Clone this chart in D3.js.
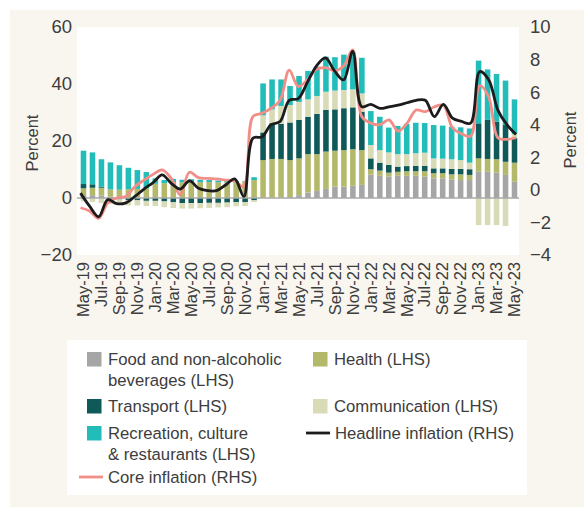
<!DOCTYPE html>
<html>
<head>
<meta charset="utf-8">
<script src="https://cdn.jsdelivr.net/npm/d3@7"></script>
<style>
  body { margin: 0; background: #ffffff; }
  svg text { font-family: "Liberation Sans", Arial, sans-serif; fill: #3d3d3d; }
</style>
</head>
<body>
<svg></svg>
<script>
// monthly categories, May-19 .. May-23
const months = ["May-19","Jun-19","Jul-19","Aug-19","Sep-19","Oct-19","Nov-19","Dec-19",
  "Jan-20","Feb-20","Mar-20","Apr-20","May-20","Jun-20","Jul-20","Aug-20","Sep-20","Oct-20","Nov-20","Dec-20",
  "Jan-21","Feb-21","Mar-21","Apr-21","May-21","Jun-21","Jul-21","Aug-21","Sep-21","Oct-21","Nov-21","Dec-21",
  "Jan-22","Feb-22","Mar-22","Apr-22","May-22","Jun-22","Jul-22","Aug-22","Sep-22","Oct-22","Nov-22","Dec-22",
  "Jan-23","Feb-23","Mar-23","Apr-23","May-23"];

// LHS contributions (percent)
const food = [1.0, 1.0, 0.8, 0.4, 0.3, 0.3, 0.2, 0.2,
  0, 0, 0, 0, 0, 0, 0, 0, 0, 0, 0, 0.2,
  0.2, 0.2, 0.2, 0.3, 1.0, 1.9, 2.5, 3.2, 4.0, 4.0, 4.3, 4.6,
  8.2, 7.8, 7.5, 7.8, 7.8, 7.8, 7.5, 6.9, 6.9, 6.5, 6.3, 6.3,
  9.2, 9.2, 8.9, 8.1, 5.7];
const health = [2.4, 2.6, 2.8, 2.6, 2.6, 2.8, 3.0, 3.2,
  5.0, 5.2, 5.4, 5.5, 5.6, 5.6, 5.6, 5.5, 5.5, 5.5, 6.0, 6.1,
  13.1, 13.5, 13.5, 13.0, 12.9, 13.5, 12.9, 13.1, 12.6, 12.8, 12.8, 12.2,
  1.9, 1.8, 1.4, 1.4, 1.6, 1.6, 1.9, 1.8, 1.8, 1.8, 2.0, 1.8,
  4.7, 4.5, 4.7, 4.6, 6.7];
const transport = [1.5, 1.2, 0.3, -0.3, -0.5, -0.8, -0.8, -1.0,
  -1.0, -1.2, -1.5, -1.8, -1.8, -1.8, -1.7, -1.7, -1.6, -1.4, -1.4, -0.8,
  9.7, 12.5, 12.3, 13.2, 13.5, 13.1, 14.1, 14.6, 14.5, 14.7, 14.7, 13.5,
  3.8, 2.8, 2.7, 1.8, 1.8, 1.9, 1.9, 1.7, 1.7, 1.9, 1.9, 2.0,
  12.3, 13.7, 13.2, 12.9, 8.6];
const communication = [-1.2, -1.4, -1.8, -1.8, -1.8, -1.8, -1.8, -1.8,
  -1.8, -2.0, -2.0, -1.9, -1.9, -1.8, -1.8, -1.6, -1.6, -1.5, -1.4, -0.6,
  6.0, 4.9, 6.3, 6.1, 6.3, 6.1, 6.3, 6.4, 6.6, 6.4, 6.3, 6.4,
  4.7, 4.4, 4.4, 4.4, 4.2, 4.4, 4.6, 3.5, 3.4, 3.4, 3.1, 2.3,
  -9.5, -9.5, -9.5, -9.8, 1.5];
const recreation = [11.7, 11.2, 9.7, 9.5, 8.6, 7.5, 6.6, 5.7,
  1.9, 1.1, 1.3, 0.9, 1.0, 0.8, 0.7, 0.6, 0.6, 0.4, 0.0, 1.0,
  11.2, 10.5, 9.3, 6.7, 9.1, 10.0, 10.3, 12.3, 11.7, 12.4, 12.9, 12.5,
  11.9, 11.7, 8.7, 9.9, 10.6, 10.7, 10.4, 11.7, 11.6, 11.4, 11.5, 12.0,
  22.0, 17.7, 16.7, 15.6, 12.1];

// RHS lines (percent)
const headline = [-0.2, -1.0, -1.65, -0.6, -0.85, -0.8, -0.4, 0.05,
  0.45, 0.92, 0.4, 0.05, 0.55, 0.1, -0.05, -0.05, 0.3, 0.67, -0.4, 3.17,
  3.25, 4.0, 4.2, 5.5, 5.6, 6.6, 7.6, 8.1, 7.3, 6.75, 8.5, 5.1,
  5.25, 5.0, 5.1, 5.2, 5.35, 5.5, 5.5, 4.5, 5.25, 4.4, 4.2, 4.1,
  7.26, 6.75, 4.9, 4.0, 3.4];
const core = [-1.1, -1.3, -1.75, -0.8, -0.5, -0.4, 0.2, 0.6,
  0.95, 1.23, 0.7, -0.3, 1.08, 0.75, 0.7, 0.67, 0.6, 0.55, 0.2, 4.5,
  4.7, 5.0, 5.5, 7.35, 6.35, 6.75, 7.4, 7.5, 7.3, 7.6, 8.6, 4.5,
  4.1, 4.0, 4.3, 3.6, 4.1, 4.9, 4.8, 5.1, 5.2, 3.8, 3.45, 3.3,
  6.4, 5.7, 3.2, 3.1, 3.2];

const leftTicks = [-20, 0, 20, 40, 60];
const rightTicks = [-4, -2, 0, 2, 4, 6, 8, 10];
const xTickLabels = months.filter((m, i) => i % 2 === 0);

const seriesKeys = ["food", "health", "transport", "communication", "recreation"];
const seriesNames = ["Food and non-alcoholic\nbeverages (LHS)", "Health (LHS)", "Transport (LHS)",
  "Communication (LHS)", "Recreation, culture\n& restaurants (LHS)"];
const barColors = ["#a6a6a6", "#b4b86b", "#0f5a59", "#d8dbb5", "#23bdb9"];
const lineColors = { headline: "#1c1c1c", core: "#f28e88" };

var svgWidth = 584, svgHeight = 510;

var svg = d3.select("svg")
  .attr("width", svgWidth)
  .attr("height", svgHeight);

// cream panel
svg.append("rect")
  .attr("x", 10).attr("y", 10)
  .attr("width", svgWidth - 10).attr("height", 497)
  .attr("fill", "#f9f6ef");

var plot = { left: 77, right: 519, top: 27, bottom: 255 };

svg.append("rect")
  .attr("x", plot.left).attr("y", plot.top)
  .attr("width", plot.right - plot.left).attr("height", plot.bottom - plot.top)
  .attr("fill", "#ffffff");

//scales
var x = d3.scaleBand()
  .domain(months)
  .range([79, plot.right])
  .paddingInner(0.38)
  .paddingOuter(0.19);

// secondary category axis for the lines (points run edge to edge)
var xLine = d3.scalePoint()
  .domain(months)
  .range([80.5, 516]);

var yL = d3.scaleLinear().domain([-20, 60]).range([plot.bottom, plot.top]);
var yR = d3.scaleLinear().domain([-4, 10]).range([plot.bottom, plot.top]);

//stacked bars
var table = months.map((m, i) => ({
  month: m,
  food: food[i],
  health: health[i],
  transport: transport[i],
  communication: communication[i],
  recreation: recreation[i]
}));

var stacked = d3.stack()
  .keys(seriesKeys)
  .offset(d3.stackOffsetDiverging)(table);

svg.append("g")
  .selectAll("g")
  .data(stacked)
  .enter()
  .append("g")
  .attr("fill", (d, i) => barColors[i])
  .selectAll("rect")
  .data(d => d)
  .enter()
  .append("rect")
  .attr("x", d => x(d.data.month))
  .attr("width", x.bandwidth())
  .attr("y", d => yL(Math.max(d[0], d[1])))
  .attr("height", d => Math.abs(yL(d[0]) - yL(d[1])));

// zero line
svg.append("line")
  .attr("x1", plot.left).attr("x2", plot.right)
  .attr("y1", yL(0)).attr("y2", yL(0))
  .attr("stroke", "#a8a8a8")
  .attr("stroke-width", 1.5);

//lines on RHS
var line = d3.line()
  .x((d, i) => xLine(months[i]))
  .y(d => yR(d))
  .curve(d3.curveCatmullRom.alpha(0.5));

svg.append("path")
  .attr("fill", "none")
  .attr("stroke", lineColors.core)
  .attr("stroke-width", 2.8)
  .attr("stroke-linejoin", "round")
  .attr("d", line(core));

svg.append("path")
  .attr("fill", "none")
  .attr("stroke", lineColors.headline)
  .attr("stroke-width", 2.8)
  .attr("stroke-linejoin", "round")
  .attr("d", line(headline));

//axes
var leftAxis = d3.axisLeft(yL).tickValues(leftTicks).tickSize(0).tickPadding(5);
var rightAxis = d3.axisRight(yR).tickValues(rightTicks).tickSize(0).tickPadding(11);
var bottomAxis = d3.axisBottom(x).tickValues(xTickLabels).tickSize(0);

var gl = svg.append("g").attr("transform", "translate(" + plot.left + ",0)").call(leftAxis);
var gr = svg.append("g").attr("transform", "translate(" + plot.right + ",0)").call(rightAxis);
var gb = svg.append("g").attr("transform", "translate(0," + plot.bottom + ")").call(bottomAxis);

svg.selectAll(".domain").remove();

gl.selectAll(".tick text").attr("font-size", 18.5).attr("font-family", null);
gr.selectAll(".tick text").attr("font-size", 18.5).attr("font-family", null);
gb.selectAll(".tick text")
  .attr("font-size", 16.5)
  .attr("font-family", null)
  .attr("text-anchor", "end")
  .attr("transform", "rotate(-90)")
  .attr("x", -7)
  .attr("y", 0)
  .attr("dy", "0.35em");

svg.selectAll(".tick text").attr("fill", "#3d3d3d");

// axis titles
svg.append("text")
  .attr("transform", "translate(38,143) rotate(-90)")
  .attr("text-anchor", "middle")
  .attr("font-size", 16.5)
  .text("Percent");

svg.append("text")
  .attr("transform", "translate(576,140) rotate(-90)")
  .attr("text-anchor", "middle")
  .attr("font-size", 16.5)
  .text("Percent");

//legend
var legend = svg.append("g");

legend.append("rect")
  .attr("x", 67).attr("y", 340)
  .attr("width", 460).attr("height", 155)
  .attr("fill", "#ffffff");

var legendItems = [
  { name: seriesNames[0], color: barColors[0], type: "box", x: 87, y: 352 },
  { name: seriesNames[1], color: barColors[1], type: "box", x: 313, y: 352 },
  { name: seriesNames[2], color: barColors[2], type: "box", x: 87, y: 399 },
  { name: seriesNames[3], color: barColors[3], type: "box", x: 313, y: 399 },
  { name: seriesNames[4], color: barColors[4], type: "box", x: 87, y: 426 },
  { name: "Headline inflation (RHS)", color: lineColors.headline, type: "line", x: 306, y: 426 },
  { name: "Core inflation (RHS)", color: lineColors.core, type: "line", x: 79, y: 470 }
];

var li = legend.selectAll(".item")
  .data(legendItems)
  .enter()
  .append("g")
  .attr("class", "item")
  .attr("transform", d => "translate(" + d.x + "," + d.y + ")");

li.filter(d => d.type === "box")
  .append("rect")
  .attr("width", 14.5).attr("height", 14.5)
  .attr("fill", d => d.color);

li.filter(d => d.type === "line")
  .append("line")
  .attr("x1", 0).attr("x2", 24)
  .attr("y1", 7).attr("y2", 7)
  .attr("stroke", d => d.color)
  .attr("stroke-width", 2.8);

li.append("text")
  .attr("x", d => d.type === "box" ? 21 : 29)
  .attr("y", 13)
  .attr("font-size", 16.7)
  .selectAll("tspan")
  .data(d => d.name.split("\n"))
  .enter()
  .append("tspan")
  .attr("x", function() { return d3.select(this.parentNode).attr("x"); })
  .attr("dy", (d, i) => i === 0 ? 0 : 21)
  .text(d => d);
</script>
</body>
</html>
